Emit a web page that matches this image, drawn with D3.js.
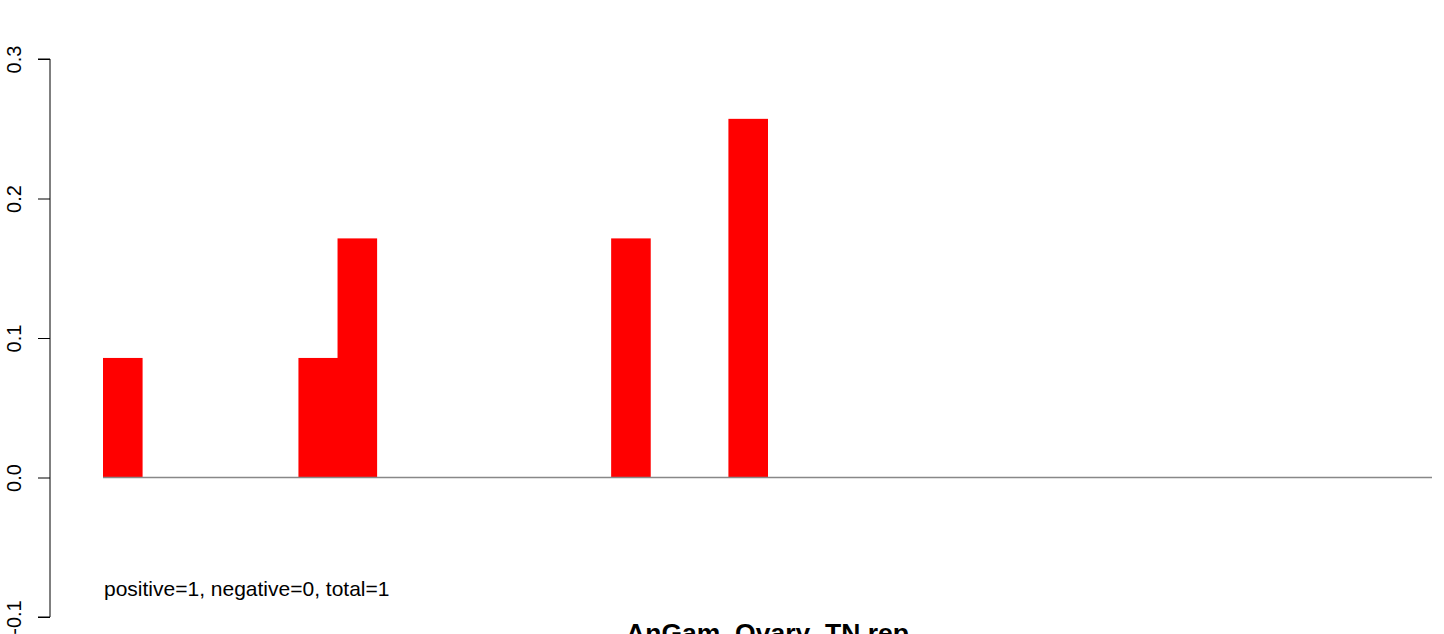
<!DOCTYPE html>
<html><head><meta charset="utf-8">
<script src="https://cdn.jsdelivr.net/npm/d3@7"></script>
<style>body{margin:0;background:#fff}svg{display:block;font-family:"Liberation Sans",Arial,sans-serif}</style>
</head><body>
<svg id="c" width="1444" height="634"></svg>
<script>
const categories = d3.range(1, 35).map(String);
const values = [0.0857,0,0,0,0,0.0857,0.1714,0,0,0,0,0,0,0.1714,0,0,0.2571,0,0,0,0,0,0,0,0,0,0,0,0,0,0,0,0,0];
const yTicks = [-0.1, 0.0, 0.1, 0.2, 0.3];
const yTickLabels = ["-0.1", "0.0", "0.1", "0.2", "0.3"];
const note = "positive=1, negative=0, total=1";
const title = "AnGam_Ovary_TN.rep";

const svg = d3.select("#c");
const x = d3.scaleBand().domain(categories).range([103, 1432]).padding(0);
const y = d3.scaleLinear().domain([-0.1, 0.3]).range([617, 59]);

svg.append("g").selectAll("rect").data(values).join("rect")
  .attr("x", (d,i) => x(categories[i]))
  .attr("width", x.bandwidth() + 0.5)
  .attr("y", d => y(Math.max(0,d)))
  .attr("height", d => Math.abs(y(d) - y(0)))
  .attr("fill", "#ff0000");

svg.append("line")
  .attr("x1", x.range()[0]).attr("x2", x.range()[1])
  .attr("y1", y(0)).attr("y2", y(0))
  .attr("stroke", "#888").attr("stroke-width", 1.5);

const ax = svg.append("g").attr("transform", "translate(50,0)")
  .call(d3.axisLeft(y).tickValues(yTicks).tickSize(12).tickFormat((d,i) => yTickLabels[i]));
ax.select(".domain").attr("stroke", "#000").attr("d", `M-12,${y(-0.1)}H0V${y(0.3)}H-12`);
ax.selectAll(".tick line").attr("stroke", "#000");
ax.selectAll(".tick text")
  .attr("font-size", 20).attr("fill", "#000")
  .attr("text-anchor", "middle").attr("dy", null)
  .attr("x", null)
  .attr("transform", "translate(-29,0) rotate(-90)");

svg.append("text").attr("x", 104).attr("y", 596)
  .attr("font-size", 21).attr("fill", "#000").text(note);

svg.append("text").attr("x", (x.range()[0] + x.range()[1]) / 2).attr("y", 642)
  .attr("text-anchor", "middle").attr("font-size", 26.5).attr("font-weight", "bold")
  .attr("fill", "#000").text(title);
</script>
</body></html>
